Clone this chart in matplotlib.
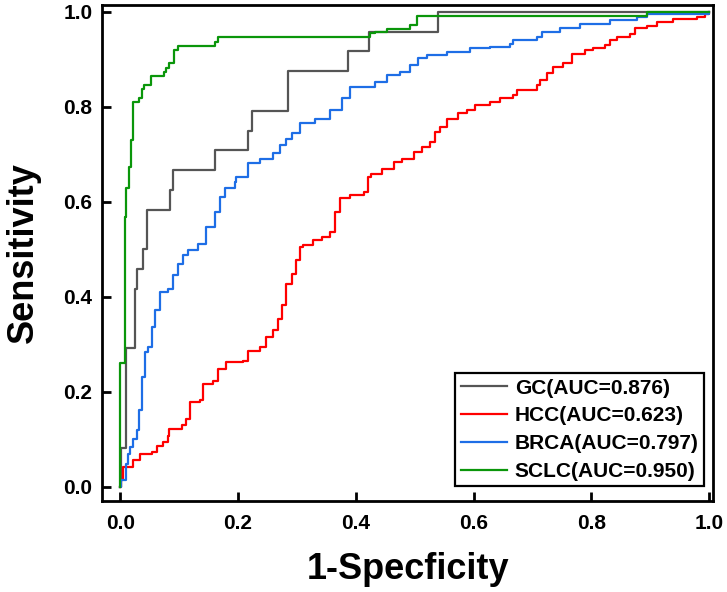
import matplotlib
matplotlib.use("Agg")
import matplotlib.pyplot as plt

plt.rcParams['font.family'] = ['Liberation Sans', 'DejaVu Sans']
plt.rcParams['font.weight'] = 'bold'

# ---- data ----
gc_fpr = [0, 0.002, 0.0105, 0.0246, 0.0275, 0.038, 0.0445, 0.085, 0.090, 0.161, 0.216, 0.224,
          0.285, 0.387, 0.423, 0.539, 1.0]
gc_tpr = [0, 0.083, 0.292, 0.417, 0.458, 0.500, 0.583, 0.625, 0.667, 0.708, 0.750, 0.792,
          0.875, 0.917, 0.958, 1.0, 1.0]

hcc_fpr = [0, 0.002, 0.004, 0.022, 0.033, 0.053, 0.062, 0.073, 0.081, 0.083, 0.104, 0.112, 0.118,
           0.135, 0.141, 0.158, 0.166, 0.180, 0.209, 0.217, 0.237, 0.248, 0.260, 0.268, 0.274,
           0.282, 0.291, 0.299, 0.305, 0.311, 0.328, 0.342, 0.356, 0.364, 0.373, 0.390, 0.413,
           0.421, 0.426, 0.444, 0.464, 0.478, 0.498, 0.512, 0.526, 0.534, 0.543, 0.554, 0.574,
           0.588, 0.602, 0.628, 0.645, 0.667, 0.673, 0.707, 0.713, 0.724, 0.735, 0.752, 0.767,
           0.789, 0.803, 0.823, 0.832, 0.843, 0.866, 0.874, 0.894, 0.911, 0.939, 0.979, 0.993, 1.0]
hcc_tpr = [0, 0.014, 0.042, 0.056, 0.070, 0.073, 0.087, 0.094, 0.108, 0.122, 0.130, 0.144, 0.179,
           0.182, 0.217, 0.224, 0.249, 0.263, 0.266, 0.287, 0.294, 0.316, 0.330, 0.354, 0.382,
           0.428, 0.449, 0.477, 0.505, 0.509, 0.519, 0.526, 0.537, 0.579, 0.607, 0.614, 0.621,
           0.652, 0.659, 0.670, 0.684, 0.691, 0.705, 0.716, 0.726, 0.747, 0.758, 0.775, 0.786,
           0.793, 0.803, 0.810, 0.818, 0.825, 0.836, 0.846, 0.856, 0.870, 0.884, 0.891, 0.912,
           0.919, 0.923, 0.930, 0.940, 0.947, 0.954, 0.965, 0.970, 0.979, 0.984, 0.989, 0.996, 1.0]

brca_fpr = [0, 0.002, 0.010, 0.013, 0.016, 0.022, 0.0275, 0.032, 0.036, 0.042, 0.047, 0.053,
            0.0586, 0.067, 0.081, 0.0897, 0.098, 0.107, 0.115, 0.132, 0.146, 0.161, 0.169, 0.178,
            0.195, 0.197, 0.217, 0.237, 0.260, 0.271, 0.282, 0.291, 0.305, 0.331, 0.356, 0.376,
            0.390, 0.432, 0.452, 0.475, 0.492, 0.506, 0.520, 0.554, 0.594, 0.628, 0.662, 0.667,
            0.707, 0.716, 0.747, 0.781, 0.832, 0.877, 0.894, 0.999, 1.0]
brca_tpr = [0, 0.014, 0.049, 0.070, 0.084, 0.102, 0.119, 0.161, 0.231, 0.284, 0.294, 0.337,
            0.372, 0.410, 0.417, 0.445, 0.470, 0.488, 0.498, 0.512, 0.547, 0.579, 0.610, 0.628,
            0.642, 0.653, 0.681, 0.691, 0.702, 0.719, 0.733, 0.744, 0.765, 0.775, 0.793, 0.818,
            0.842, 0.853, 0.867, 0.874, 0.888, 0.902, 0.909, 0.916, 0.923, 0.926, 0.933, 0.940,
            0.947, 0.958, 0.965, 0.975, 0.982, 0.989, 0.996, 1.0, 1.0]

sclc_fpr = [0, 0.0, 0.0076, 0.0105, 0.0144, 0.0178, 0.0218, 0.032, 0.036, 0.0405, 0.052, 0.074,
            0.077, 0.082, 0.091, 0.098, 0.161, 0.166, 0.424, 0.432, 0.452, 0.492, 0.503, 0.894, 1.0]
sclc_tpr = [0, 0.261, 0.568, 0.628, 0.673, 0.730, 0.810, 0.818, 0.837, 0.846, 0.865, 0.874,
            0.882, 0.893, 0.919, 0.928, 0.937, 0.946, 0.955, 0.958, 0.964, 0.972, 0.991, 1.0, 1.0]

labels = ['GC(AUC=0.876)', 'HCC(AUC=0.623)', 'BRCA(AUC=0.797)', 'SCLC(AUC=0.950)']
colors = ['#555555', '#ff0000', '#1e6ee6', '#0a960a']
xticks = [0.0, 0.2, 0.4, 0.6, 0.8, 1.0]
yticks = [0.0, 0.2, 0.4, 0.6, 0.8, 1.0]

fig = plt.figure(figsize=(7.27, 5.92), dpi=100)
ax = fig.add_axes([0.1407, 0.1537, 0.9807 - 0.1407, 0.9916 - 0.1537])

series = [(gc_fpr, gc_tpr), (hcc_fpr, hcc_tpr), (brca_fpr, brca_tpr), (sclc_fpr, sclc_tpr)]
for (fx, ty), lab, col in zip(series, labels, colors):
    ax.plot(fx, ty, drawstyle='steps-post', color=col, lw=1.6, label=lab)

ax.set_xlim(-0.0306, 1.0063)
ax.set_ylim(-0.0295, 1.0141)
ax.set_xticks(xticks)
ax.set_yticks(yticks)
ax.set_xticklabels([f'{t:.1f}' for t in xticks])
ax.set_yticklabels([f'{t:.1f}' for t in yticks])
for s in ax.spines.values():
    s.set_linewidth(2.0)
ax.tick_params(axis='both', direction='in', length=6.5, width=2.0, labelsize=15)
ax.tick_params(axis='x', pad=9)
ax.tick_params(axis='y', pad=7)
for lbl in ax.get_xticklabels() + ax.get_yticklabels():
    lbl.set_fontweight('bold')

ax.set_xlabel('1-Specficity', fontsize=26, fontweight='bold', labelpad=14)
ax.set_ylabel('Sensitivity', fontsize=26, fontweight='bold', labelpad=16)

leg = ax.legend(loc='lower right', bbox_to_anchor=(0.985, 0.030), borderaxespad=0,
                prop={'size': 15, 'weight': 'bold'}, frameon=True, fancybox=False,
                edgecolor='black', framealpha=1, handlelength=2.25, handletextpad=0.35,
                borderpad=0.25, labelspacing=0.42)
leg.get_frame().set_linewidth(1.6)

fig.savefig('out.png', dpi=100)
